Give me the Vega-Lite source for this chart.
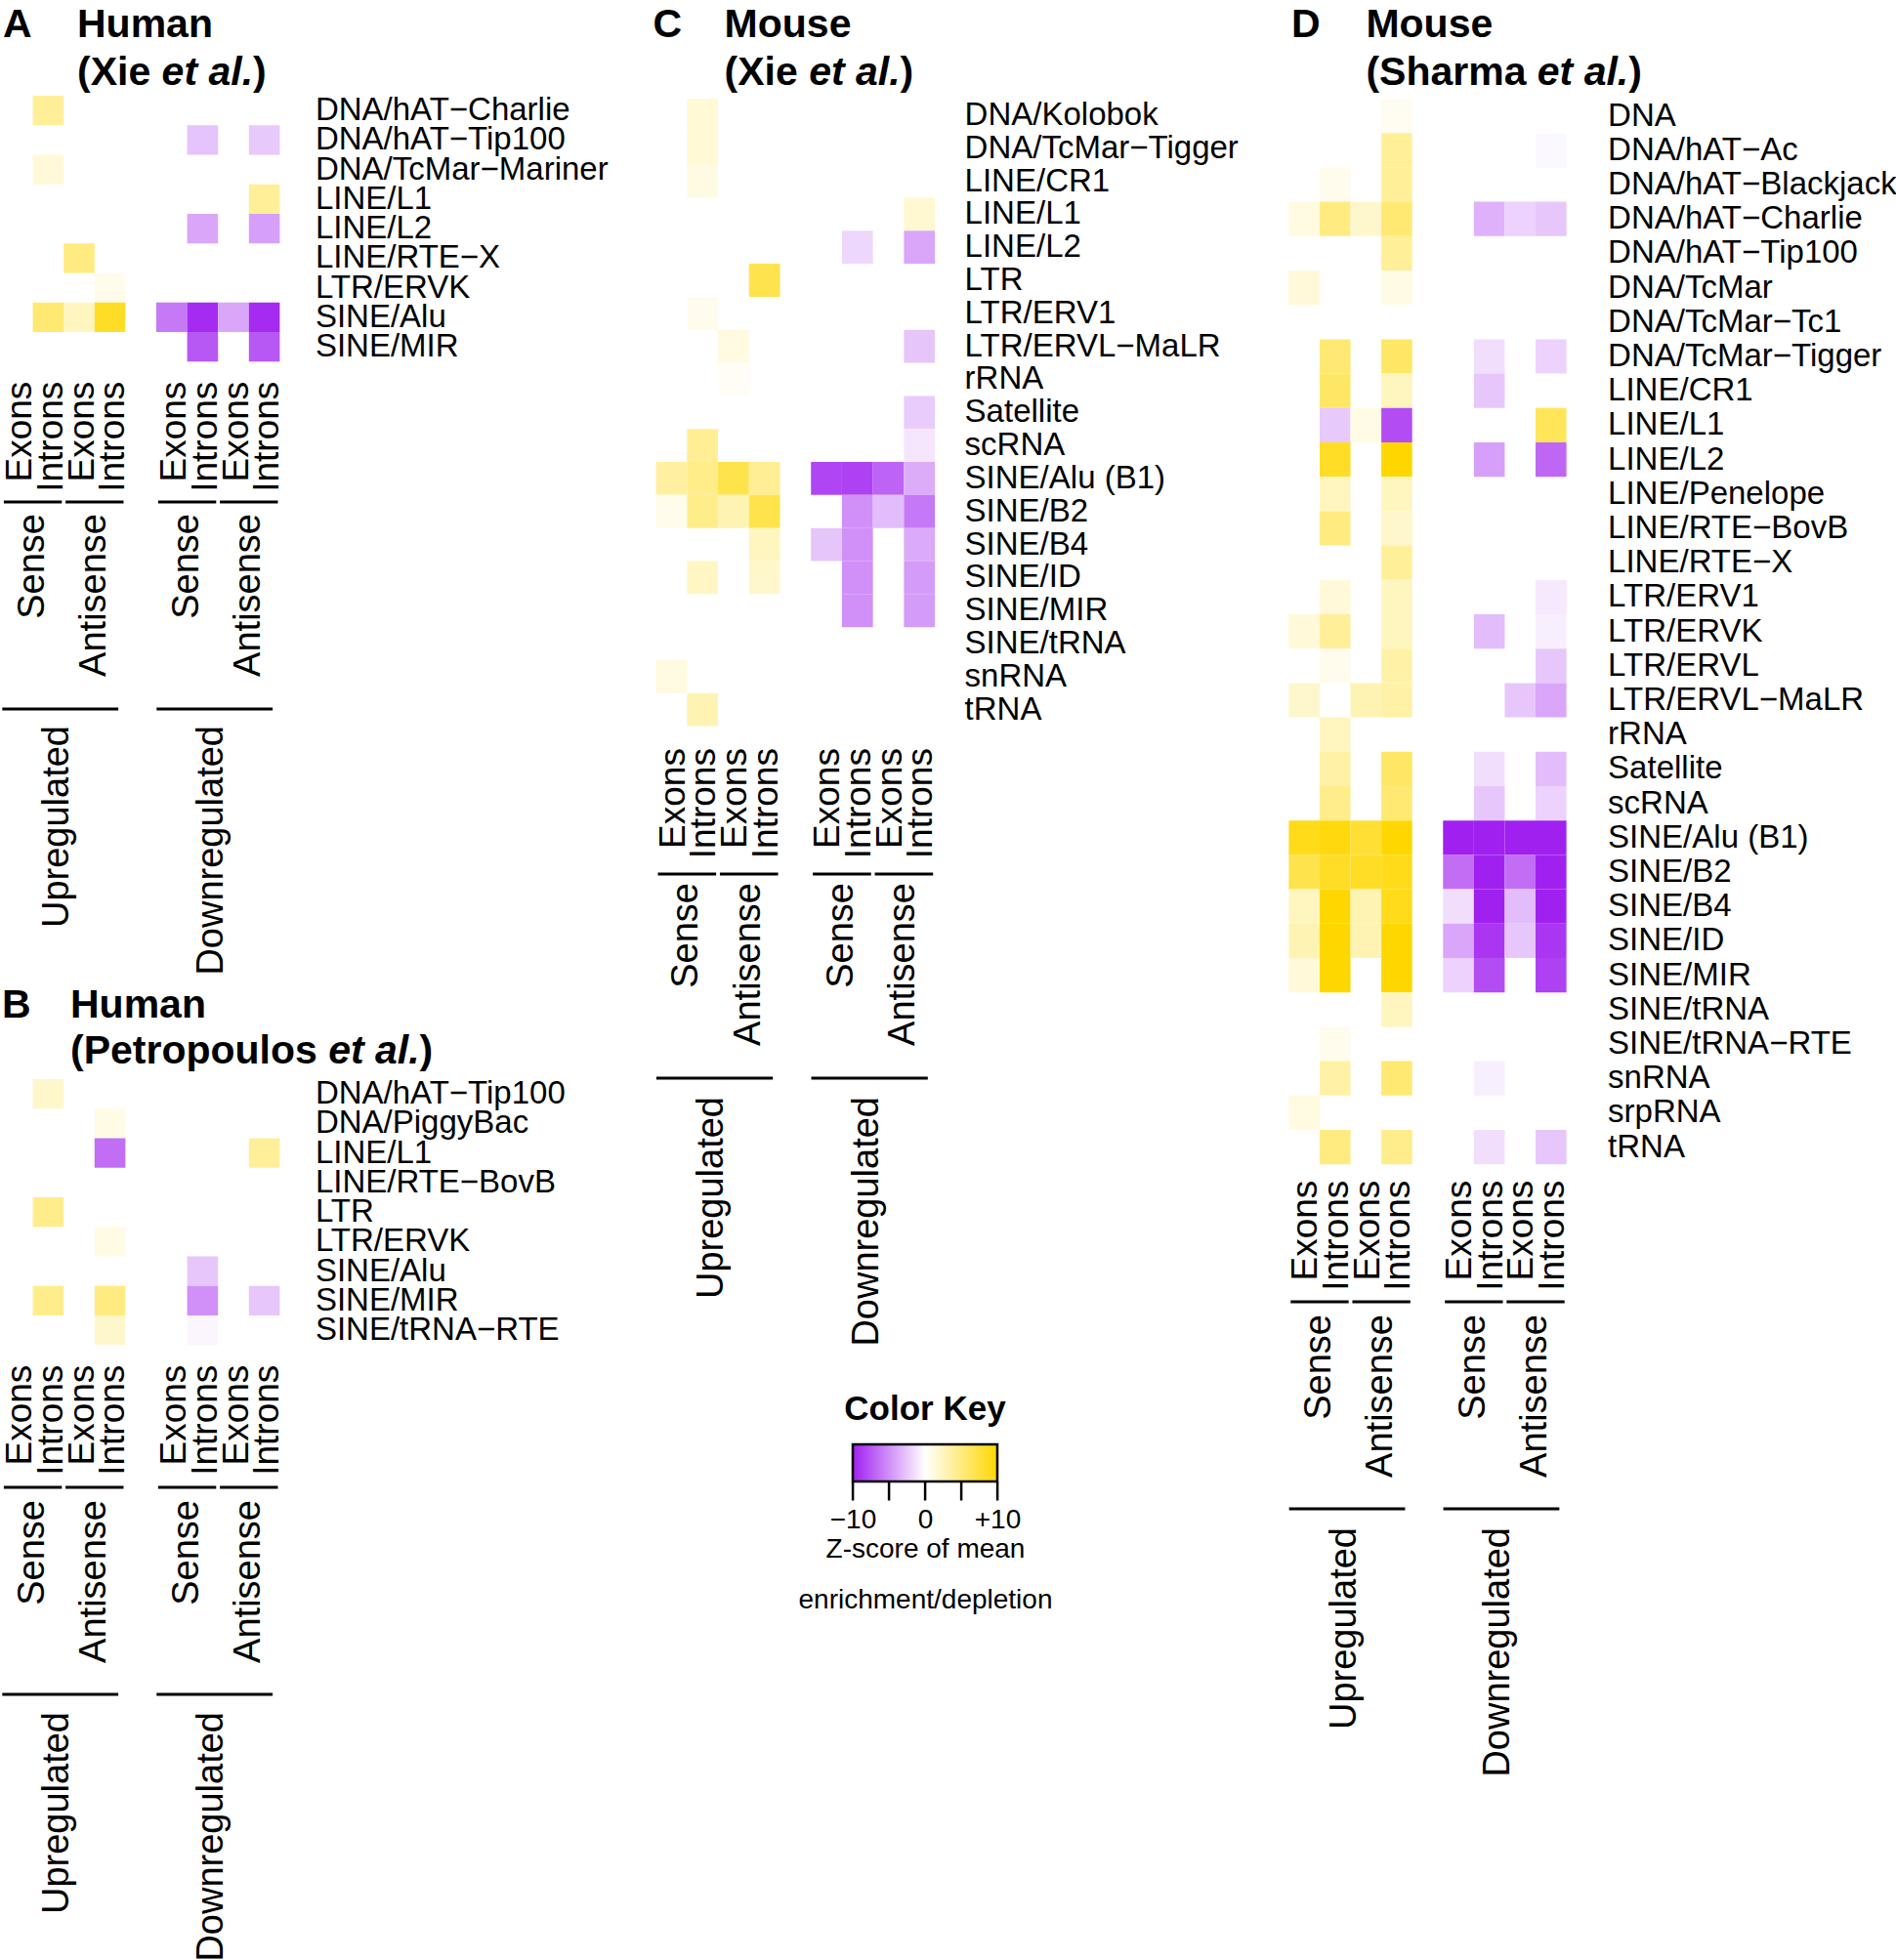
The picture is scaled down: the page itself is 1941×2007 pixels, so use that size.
{
"$schema":"https://vega.github.io/schema/vega-lite/v6.json",
"background":"white",
"padding":0,
"config":{"view":{"stroke":null},"font":"Liberation Sans","text":{"font":"Liberation Sans","color":"black"},"axis":{"labelFont":"Liberation Sans","titleFont":"Liberation Sans"}},
"datasets":{
"A":[
{"family":"DNA/hAT−Charlie","col":"US-Introns","z":4},
{"family":"DNA/hAT−Tip100","col":"DS-Introns","z":-2.7},
{"family":"DNA/hAT−Tip100","col":"DA-Introns","z":-2.4},
{"family":"DNA/TcMar−Mariner","col":"US-Introns","z":1.5},
{"family":"LINE/L1","col":"DA-Introns","z":4},
{"family":"LINE/L2","col":"DS-Introns","z":-4},
{"family":"LINE/L2","col":"DA-Introns","z":-4.3},
{"family":"LINE/RTE−X","col":"UA-Exons","z":5},
{"family":"LTR/ERVK","col":"UA-Introns","z":0.8},
{"family":"SINE/Alu","col":"US-Introns","z":5.5},
{"family":"SINE/Alu","col":"UA-Exons","z":2.5},
{"family":"SINE/Alu","col":"UA-Introns","z":8.5},
{"family":"SINE/Alu","col":"DS-Exons","z":-6},
{"family":"SINE/Alu","col":"DS-Introns","z":-9.5},
{"family":"SINE/Alu","col":"DA-Exons","z":-4},
{"family":"SINE/Alu","col":"DA-Introns","z":-9.5},
{"family":"SINE/MIR","col":"DS-Introns","z":-7.5},
{"family":"SINE/MIR","col":"DA-Introns","z":-7.5}],
"B":[
{"family":"DNA/hAT−Tip100","col":"US-Introns","z":2},
{"family":"DNA/PiggyBac","col":"UA-Introns","z":1},
{"family":"LINE/L1","col":"UA-Introns","z":-6.5},
{"family":"LINE/L1","col":"DA-Introns","z":4},
{"family":"LTR","col":"US-Introns","z":4.5},
{"family":"LTR/ERVK","col":"UA-Introns","z":1},
{"family":"SINE/Alu","col":"DS-Introns","z":-2.5},
{"family":"SINE/MIR","col":"US-Introns","z":4.5},
{"family":"SINE/MIR","col":"UA-Introns","z":5},
{"family":"SINE/MIR","col":"DS-Introns","z":-5},
{"family":"SINE/MIR","col":"DA-Introns","z":-2.5},
{"family":"SINE/tRNA−RTE","col":"UA-Introns","z":2},
{"family":"SINE/tRNA−RTE","col":"DS-Introns","z":-0.4}],
"C":[
{"family":"DNA/Kolobok","col":"US-Introns","z":1.6},
{"family":"DNA/TcMar−Tigger","col":"US-Introns","z":1.6},
{"family":"LINE/CR1","col":"US-Introns","z":1.1},
{"family":"LINE/L1","col":"DA-Introns","z":1.8},
{"family":"LINE/L2","col":"DS-Introns","z":-1.8},
{"family":"LINE/L2","col":"DA-Introns","z":-4},
{"family":"LTR","col":"UA-Introns","z":7},
{"family":"LTR/ERV1","col":"US-Introns","z":0.7},
{"family":"LTR/ERVL−MaLR","col":"UA-Exons","z":1.2},
{"family":"LTR/ERVL−MaLR","col":"DA-Introns","z":-2.6},
{"family":"rRNA","col":"UA-Exons","z":0.4},
{"family":"Satellite","col":"DA-Introns","z":-2.3},
{"family":"scRNA","col":"US-Introns","z":4.2},
{"family":"scRNA","col":"DA-Introns","z":-1.1},
{"family":"SINE/Alu (B1)","col":"US-Exons","z":3.7},
{"family":"SINE/Alu (B1)","col":"US-Introns","z":4.6},
{"family":"SINE/Alu (B1)","col":"UA-Exons","z":7},
{"family":"SINE/Alu (B1)","col":"UA-Introns","z":4.2},
{"family":"SINE/Alu (B1)","col":"DS-Exons","z":-8.3},
{"family":"SINE/Alu (B1)","col":"DS-Introns","z":-8.5},
{"family":"SINE/Alu (B1)","col":"DA-Exons","z":-7},
{"family":"SINE/Alu (B1)","col":"DA-Introns","z":-3.7},
{"family":"SINE/B2","col":"US-Exons","z":0.8},
{"family":"SINE/B2","col":"US-Introns","z":4.6},
{"family":"SINE/B2","col":"UA-Exons","z":3},
{"family":"SINE/B2","col":"UA-Introns","z":7},
{"family":"SINE/B2","col":"DS-Introns","z":-5},
{"family":"SINE/B2","col":"DA-Exons","z":-3},
{"family":"SINE/B2","col":"DA-Introns","z":-6},
{"family":"SINE/B4","col":"UA-Introns","z":2.5},
{"family":"SINE/B4","col":"DS-Exons","z":-2.6},
{"family":"SINE/B4","col":"DS-Introns","z":-5},
{"family":"SINE/B4","col":"DA-Introns","z":-3.8},
{"family":"SINE/ID","col":"US-Introns","z":2.3},
{"family":"SINE/ID","col":"UA-Introns","z":2},
{"family":"SINE/ID","col":"DS-Introns","z":-5},
{"family":"SINE/ID","col":"DA-Introns","z":-4.5},
{"family":"SINE/MIR","col":"DS-Introns","z":-5},
{"family":"SINE/MIR","col":"DA-Introns","z":-4.5},
{"family":"snRNA","col":"US-Exons","z":1.2},
{"family":"tRNA","col":"US-Introns","z":3}],
"D":[
{"family":"DNA","col":"UA-Introns","z":0.5},
{"family":"DNA/hAT−Ac","col":"UA-Introns","z":4},
{"family":"DNA/hAT−Ac","col":"DA-Introns","z":-0.3},
{"family":"DNA/hAT−Blackjack","col":"US-Introns","z":0.7},
{"family":"DNA/hAT−Blackjack","col":"UA-Introns","z":4},
{"family":"DNA/hAT−Charlie","col":"US-Exons","z":1.2},
{"family":"DNA/hAT−Charlie","col":"US-Introns","z":5},
{"family":"DNA/hAT−Charlie","col":"UA-Exons","z":2},
{"family":"DNA/hAT−Charlie","col":"UA-Introns","z":5.5},
{"family":"DNA/hAT−Charlie","col":"DS-Introns","z":-3.5},
{"family":"DNA/hAT−Charlie","col":"DA-Exons","z":-2},
{"family":"DNA/hAT−Charlie","col":"DA-Introns","z":-2.5},
{"family":"DNA/hAT−Tip100","col":"UA-Introns","z":4},
{"family":"DNA/TcMar","col":"US-Exons","z":1.5},
{"family":"DNA/TcMar","col":"UA-Introns","z":1},
{"family":"DNA/TcMar−Tigger","col":"US-Introns","z":5.5},
{"family":"DNA/TcMar−Tigger","col":"UA-Introns","z":6},
{"family":"DNA/TcMar−Tigger","col":"DS-Introns","z":-1.5},
{"family":"DNA/TcMar−Tigger","col":"DA-Introns","z":-2},
{"family":"LINE/CR1","col":"US-Introns","z":6},
{"family":"LINE/CR1","col":"UA-Introns","z":2.5},
{"family":"LINE/CR1","col":"DS-Introns","z":-2.5},
{"family":"LINE/L1","col":"US-Introns","z":-2.4},
{"family":"LINE/L1","col":"UA-Exons","z":1},
{"family":"LINE/L1","col":"UA-Introns","z":-8},
{"family":"LINE/L1","col":"DA-Introns","z":6.5},
{"family":"LINE/L2","col":"US-Introns","z":8.5},
{"family":"LINE/L2","col":"UA-Introns","z":10},
{"family":"LINE/L2","col":"DS-Introns","z":-4.3},
{"family":"LINE/L2","col":"DA-Introns","z":-6.8},
{"family":"LINE/Penelope","col":"US-Introns","z":2.5},
{"family":"LINE/Penelope","col":"UA-Introns","z":2.5},
{"family":"LINE/RTE−BovB","col":"US-Introns","z":5},
{"family":"LINE/RTE−BovB","col":"UA-Introns","z":2},
{"family":"LINE/RTE−X","col":"UA-Introns","z":4},
{"family":"LTR/ERV1","col":"US-Introns","z":1.5},
{"family":"LTR/ERV1","col":"UA-Introns","z":2.5},
{"family":"LTR/ERV1","col":"DA-Introns","z":-1},
{"family":"LTR/ERVK","col":"US-Exons","z":1.5},
{"family":"LTR/ERVK","col":"US-Introns","z":4},
{"family":"LTR/ERVK","col":"UA-Introns","z":2.5},
{"family":"LTR/ERVK","col":"DS-Introns","z":-3},
{"family":"LTR/ERVK","col":"DA-Introns","z":-0.7},
{"family":"LTR/ERVL","col":"US-Introns","z":0.7},
{"family":"LTR/ERVL","col":"UA-Introns","z":3.5},
{"family":"LTR/ERVL","col":"DA-Introns","z":-2.5},
{"family":"LTR/ERVL−MaLR","col":"US-Exons","z":2},
{"family":"LTR/ERVL−MaLR","col":"UA-Exons","z":3},
{"family":"LTR/ERVL−MaLR","col":"UA-Introns","z":3.5},
{"family":"LTR/ERVL−MaLR","col":"DA-Exons","z":-2.5},
{"family":"LTR/ERVL−MaLR","col":"DA-Introns","z":-4},
{"family":"rRNA","col":"US-Introns","z":2.5},
{"family":"Satellite","col":"US-Introns","z":3.5},
{"family":"Satellite","col":"UA-Introns","z":6},
{"family":"Satellite","col":"DS-Introns","z":-1.5},
{"family":"Satellite","col":"DA-Introns","z":-3},
{"family":"scRNA","col":"US-Introns","z":4.5},
{"family":"scRNA","col":"UA-Introns","z":5.5},
{"family":"scRNA","col":"DS-Introns","z":-2.5},
{"family":"scRNA","col":"DA-Introns","z":-2},
{"family":"SINE/Alu (B1)","col":"US-Exons","z":9},
{"family":"SINE/Alu (B1)","col":"US-Introns","z":9.5},
{"family":"SINE/Alu (B1)","col":"UA-Exons","z":8},
{"family":"SINE/Alu (B1)","col":"UA-Introns","z":10},
{"family":"SINE/Alu (B1)","col":"DS-Exons","z":-10},
{"family":"SINE/Alu (B1)","col":"DS-Introns","z":-10},
{"family":"SINE/Alu (B1)","col":"DA-Exons","z":-10},
{"family":"SINE/Alu (B1)","col":"DA-Introns","z":-10},
{"family":"SINE/B2","col":"US-Exons","z":7},
{"family":"SINE/B2","col":"US-Introns","z":8.5},
{"family":"SINE/B2","col":"UA-Exons","z":8.5},
{"family":"SINE/B2","col":"UA-Introns","z":9},
{"family":"SINE/B2","col":"DS-Exons","z":-6.5},
{"family":"SINE/B2","col":"DS-Introns","z":-10},
{"family":"SINE/B2","col":"DA-Exons","z":-6.5},
{"family":"SINE/B2","col":"DA-Introns","z":-10},
{"family":"SINE/B4","col":"US-Exons","z":2.5},
{"family":"SINE/B4","col":"US-Introns","z":10},
{"family":"SINE/B4","col":"UA-Exons","z":3},
{"family":"SINE/B4","col":"UA-Introns","z":9},
{"family":"SINE/B4","col":"DS-Exons","z":-1.5},
{"family":"SINE/B4","col":"DS-Introns","z":-10},
{"family":"SINE/B4","col":"DA-Exons","z":-3},
{"family":"SINE/B4","col":"DA-Introns","z":-10},
{"family":"SINE/ID","col":"US-Exons","z":3},
{"family":"SINE/ID","col":"US-Introns","z":10},
{"family":"SINE/ID","col":"UA-Exons","z":3},
{"family":"SINE/ID","col":"UA-Introns","z":10},
{"family":"SINE/ID","col":"DS-Exons","z":-4},
{"family":"SINE/ID","col":"DS-Introns","z":-9},
{"family":"SINE/ID","col":"DA-Exons","z":-2.5},
{"family":"SINE/ID","col":"DA-Introns","z":-9},
{"family":"SINE/MIR","col":"US-Exons","z":1.5},
{"family":"SINE/MIR","col":"US-Introns","z":10},
{"family":"SINE/MIR","col":"UA-Introns","z":10},
{"family":"SINE/MIR","col":"DS-Exons","z":-2},
{"family":"SINE/MIR","col":"DS-Introns","z":-8},
{"family":"SINE/MIR","col":"DA-Introns","z":-8.5},
{"family":"SINE/tRNA","col":"UA-Introns","z":2.5},
{"family":"SINE/tRNA−RTE","col":"US-Introns","z":0.7},
{"family":"snRNA","col":"US-Introns","z":3.5},
{"family":"snRNA","col":"UA-Introns","z":5.5},
{"family":"snRNA","col":"DS-Introns","z":-0.7},
{"family":"srpRNA","col":"US-Exons","z":1.2},
{"family":"tRNA","col":"US-Introns","z":5},
{"family":"tRNA","col":"UA-Introns","z":4.5},
{"family":"tRNA","col":"DS-Introns","z":-1.5},
{"family":"tRNA","col":"DA-Introns","z":-2.5}],
"strands":[
{"strand":"Sense","first":"US-Exons","last":"US-Introns"},
{"strand":"Antisense","first":"UA-Exons","last":"UA-Introns"},
{"strand":"Sense","first":"DS-Exons","last":"DS-Introns"},
{"strand":"Antisense","first":"DA-Exons","last":"DA-Introns"}],
"regs":[
{"reg":"Upregulated","first":"US-Exons","last":"UA-Introns","mid":"UA-Exons"},
{"reg":"Downregulated","first":"DS-Exons","last":"DA-Introns","mid":"DA-Exons"}],
"titles":[
{"panel":"A","letter":"A","line1":"Human","pre":"(Xie","etal":"et al.","post":")"},
{"panel":"B","letter":"B","line1":"Human","pre":"(Petropoulos","etal":"et al.","post":")"},
{"panel":"C","letter":"C","line1":"Mouse","pre":"(Xie","etal":"et al.","post":")"},
{"panel":"D","letter":"D","line1":"Mouse","pre":"(Sharma","etal":"et al.","post":")"}],
"key":[{"lo":-10,"hi":10,"title":"Color Key"}]
},
"spacing":669.6,
"bounds":"flush",
"hconcat":[
{"spacing":0,"bounds":"flush","vconcat":[
 {"width":284.4,"height":97.6,"data":{"name":"titles"},"transform":[{"filter":"datum.panel == 'A'"}],
  "layer":[
   {"mark":{"type":"text","align":"left","baseline":"alphabetic","fontSize":41,"fontWeight":"bold"},"encoding":{"x":{"datum":1,"type":"quantitative","scale":{"domain":[0,284.4],"nice":false,"zero":false},"axis":null},"y":{"datum":38,"type":"quantitative","scale":{"domain":[0,97.6],"nice":false,"reverse":true},"axis":null},"text":{"field":"letter"}}},
   {"mark":{"type":"text","align":"left","baseline":"alphabetic","fontSize":41,"fontWeight":"bold"},"encoding":{"x":{"datum":77,"type":"quantitative"},"y":{"datum":38,"type":"quantitative"},"text":{"field":"line1"}}},
   {"mark":{"type":"text","align":"left","baseline":"alphabetic","fontSize":41,"fontWeight":"bold"},"encoding":{"x":{"datum":77,"type":"quantitative"},"y":{"datum":87,"type":"quantitative"},"text":{"field":"pre"}}},
   {"mark":{"type":"text","align":"left","baseline":"alphabetic","fontSize":41,"fontWeight":"bold","fontStyle":"italic"},"encoding":{"x":{"datum":163.6,"type":"quantitative"},"y":{"datum":87,"type":"quantitative"},"text":{"field":"etal"}}},
   {"mark":{"type":"text","align":"left","baseline":"alphabetic","fontSize":41,"fontWeight":"bold"},"encoding":{"x":{"datum":257,"type":"quantitative"},"y":{"datum":87,"type":"quantitative"},"text":{"field":"post"}}}
  ]},
 {"width":284.4,"height":272.2,"data":{"name":"A"},"mark":"rect",
  "encoding":{
   "x":{"field":"col","type":"nominal","scale":{"domain":["US-Exons","US-Introns","UA-Exons","UA-Introns","gap","DS-Exons","DS-Introns","DA-Exons","DA-Introns"],"paddingInner":0,"paddingOuter":0},"axis":{"orient":"bottom","title":null,"ticks":false,"domain":false,"labelAngle":-90,"labelAlign":"right","labelBaseline":"top","labelOffset":-14.5,"labelPadding":20,"labelFontSize":37,"labelColor":"black","labelOverlap":false,"labelLimit":1000,"labelExpr":"datum.value == 'gap' ? '' : split(datum.value, '-')[1]"}},
   "y":{"field":"family","type":"nominal","scale":{"domain":["DNA/hAT−Charlie","DNA/hAT−Tip100","DNA/TcMar−Mariner","LINE/L1","LINE/L2","LINE/RTE−X","LTR/ERVK","SINE/Alu","SINE/MIR"],"paddingInner":0,"paddingOuter":0},"axis":{"orient":"right","title":null,"ticks":false,"domain":false,"labelPadding":36,"labelFontSize":33,"labelColor":"black","labelLimit":1000,"labelOverlap":false}},
   "color":{"field":"z","type":"quantitative","scale":{"domain":[-10,0,10],"range":["#A020F0","#FFFFFF","#FFD700"],"interpolate":"rgb"},"legend":null}}},
 {"width":284.4,"height":630.2,
  "layer":[
   {"data":{"name":"strands"},"mark":{"type":"rule","strokeWidth":3,"color":"black"},"encoding":{"x":{"field":"first","type":"nominal","bandPosition":0.06,"scale":{"domain":["US-Exons","US-Introns","UA-Exons","UA-Introns","gap","DS-Exons","DS-Introns","DA-Exons","DA-Introns"],"paddingInner":0,"paddingOuter":0},"axis":null},"x2":{"field":"last","bandPosition":0.94},"y":{"datum":143,"type":"quantitative","scale":{"domain":[0,630.2],"nice":false,"reverse":true},"axis":null}}},
   {"data":{"name":"strands"},"mark":{"type":"text","angle":-90,"align":"right","baseline":"middle","fontSize":38,"color":"black"},"encoding":{"x":{"field":"last","type":"nominal","bandPosition":0},"y":{"datum":155,"type":"quantitative"},"text":{"field":"strand"}}},
   {"data":{"name":"regs"},"mark":{"type":"rule","strokeWidth":3,"color":"black"},"encoding":{"x":{"field":"first","type":"nominal","bandPosition":0.01},"x2":{"field":"last","bandPosition":0.77},"y":{"datum":355,"type":"quantitative"}}},
   {"data":{"name":"regs"},"mark":{"type":"text","angle":-90,"align":"right","baseline":"middle","fontSize":38,"color":"black","dy":-6},"encoding":{"x":{"field":"mid","type":"nominal","bandPosition":0},"y":{"datum":372,"type":"quantitative"},"text":{"field":"reg"}}}
  ]},
 {"width":284.4,"height":102.6,"data":{"name":"titles"},"transform":[{"filter":"datum.panel == 'B'"}],
  "layer":[
   {"mark":{"type":"text","align":"left","baseline":"alphabetic","fontSize":41,"fontWeight":"bold"},"encoding":{"x":{"datum":0,"type":"quantitative","scale":{"domain":[0,284.4],"nice":false,"zero":false},"axis":null},"y":{"datum":40,"type":"quantitative","scale":{"domain":[0,102.6],"nice":false,"reverse":true},"axis":null},"text":{"field":"letter"}}},
   {"mark":{"type":"text","align":"left","baseline":"alphabetic","fontSize":41,"fontWeight":"bold"},"encoding":{"x":{"datum":70,"type":"quantitative"},"y":{"datum":40,"type":"quantitative"},"text":{"field":"line1"}}},
   {"mark":{"type":"text","align":"left","baseline":"alphabetic","fontSize":41,"fontWeight":"bold"},"encoding":{"x":{"datum":70,"type":"quantitative"},"y":{"datum":87,"type":"quantitative"},"text":{"field":"pre"}}},
   {"mark":{"type":"text","align":"left","baseline":"alphabetic","fontSize":41,"fontWeight":"bold","fontStyle":"italic"},"encoding":{"x":{"datum":334.2,"type":"quantitative"},"y":{"datum":87,"type":"quantitative"},"text":{"field":"etal"}}},
   {"mark":{"type":"text","align":"left","baseline":"alphabetic","fontSize":41,"fontWeight":"bold"},"encoding":{"x":{"datum":427.6,"type":"quantitative"},"y":{"datum":87,"type":"quantitative"},"text":{"field":"post"}}}
  ]},
 {"width":284.4,"height":272.2,"data":{"name":"B"},"mark":"rect",
  "encoding":{
   "x":{"field":"col","type":"nominal","scale":{"domain":["US-Exons","US-Introns","UA-Exons","UA-Introns","gap","DS-Exons","DS-Introns","DA-Exons","DA-Introns"],"paddingInner":0,"paddingOuter":0},"axis":{"orient":"bottom","title":null,"ticks":false,"domain":false,"labelAngle":-90,"labelAlign":"right","labelBaseline":"top","labelOffset":-14.5,"labelPadding":20,"labelFontSize":37,"labelColor":"black","labelOverlap":false,"labelLimit":1000,"labelExpr":"datum.value == 'gap' ? '' : split(datum.value, '-')[1]"}},
   "y":{"field":"family","type":"nominal","scale":{"domain":["DNA/hAT−Tip100","DNA/PiggyBac","LINE/L1","LINE/RTE−BovB","LTR","LTR/ERVK","SINE/Alu","SINE/MIR","SINE/tRNA−RTE"],"paddingInner":0,"paddingOuter":0},"axis":{"orient":"right","title":null,"ticks":false,"domain":false,"labelPadding":36,"labelFontSize":33,"labelColor":"black","labelLimit":1000,"labelOverlap":false}},
   "color":{"field":"z","type":"quantitative","scale":{"domain":[-10,0,10],"range":["#A020F0","#FFFFFF","#FFD700"],"interpolate":"rgb"},"legend":null}}},
 {"width":284.4,"height":632.2,
  "layer":[
   {"data":{"name":"strands"},"mark":{"type":"rule","strokeWidth":3,"color":"black"},"encoding":{"x":{"field":"first","type":"nominal","bandPosition":0.06,"scale":{"domain":["US-Exons","US-Introns","UA-Exons","UA-Introns","gap","DS-Exons","DS-Introns","DA-Exons","DA-Introns"],"paddingInner":0,"paddingOuter":0},"axis":null},"x2":{"field":"last","bandPosition":0.94},"y":{"datum":145,"type":"quantitative","scale":{"domain":[0,632.2],"nice":false,"reverse":true},"axis":null}}},
   {"data":{"name":"strands"},"mark":{"type":"text","angle":-90,"align":"right","baseline":"middle","fontSize":38,"color":"black"},"encoding":{"x":{"field":"last","type":"nominal","bandPosition":0},"y":{"datum":158,"type":"quantitative"},"text":{"field":"strand"}}},
   {"data":{"name":"regs"},"mark":{"type":"rule","strokeWidth":3,"color":"black"},"encoding":{"x":{"field":"first","type":"nominal","bandPosition":0.01},"x2":{"field":"last","bandPosition":0.77},"y":{"datum":357,"type":"quantitative"}}},
   {"data":{"name":"regs"},"mark":{"type":"text","angle":-90,"align":"right","baseline":"middle","fontSize":38,"color":"black","dy":-6},"encoding":{"x":{"field":"mid","type":"nominal","bandPosition":0},"y":{"datum":375,"type":"quantitative"},"text":{"field":"reg"}}}
  ]}
]},
{"spacing":647.8,"bounds":"flush","hconcat":[
 {"spacing":0,"bounds":"flush","vconcat":[
  {"width":285.5,"height":100.9,"data":{"name":"titles"},"transform":[{"filter":"datum.panel == 'C'"}],
   "layer":[
    {"mark":{"type":"text","align":"left","baseline":"alphabetic","fontSize":41,"fontWeight":"bold"},"encoding":{"x":{"datum":-3,"type":"quantitative","scale":{"domain":[0,285.5],"nice":false,"zero":false},"axis":null},"y":{"datum":38,"type":"quantitative","scale":{"domain":[0,100.9],"nice":false,"reverse":true},"axis":null},"text":{"field":"letter"}}},
    {"mark":{"type":"text","align":"left","baseline":"alphabetic","fontSize":41,"fontWeight":"bold"},"encoding":{"x":{"datum":70,"type":"quantitative"},"y":{"datum":38,"type":"quantitative"},"text":{"field":"line1"}}},
    {"mark":{"type":"text","align":"left","baseline":"alphabetic","fontSize":41,"fontWeight":"bold"},"encoding":{"x":{"datum":70,"type":"quantitative"},"y":{"datum":87,"type":"quantitative"},"text":{"field":"pre"}}},
    {"mark":{"type":"text","align":"left","baseline":"alphabetic","fontSize":41,"fontWeight":"bold","fontStyle":"italic"},"encoding":{"x":{"datum":156.6,"type":"quantitative"},"y":{"datum":87,"type":"quantitative"},"text":{"field":"etal"}}},
    {"mark":{"type":"text","align":"left","baseline":"alphabetic","fontSize":41,"fontWeight":"bold"},"encoding":{"x":{"datum":250,"type":"quantitative"},"y":{"datum":87,"type":"quantitative"},"text":{"field":"post"}}}
   ]},
  {"width":285.5,"height":642.6,"data":{"name":"C"},"mark":"rect",
   "encoding":{
    "x":{"field":"col","type":"nominal","scale":{"domain":["US-Exons","US-Introns","UA-Exons","UA-Introns","gap","DS-Exons","DS-Introns","DA-Exons","DA-Introns"],"paddingInner":0,"paddingOuter":0},"axis":{"orient":"bottom","title":null,"ticks":false,"domain":false,"labelAngle":-90,"labelAlign":"right","labelBaseline":"top","labelOffset":-15.8,"labelPadding":22,"labelFontSize":37,"labelColor":"black","labelOverlap":false,"labelLimit":1000,"labelExpr":"datum.value == 'gap' ? '' : split(datum.value, '-')[1]"}},
    "y":{"field":"family","type":"nominal","scale":{"domain":["DNA/Kolobok","DNA/TcMar−Tigger","LINE/CR1","LINE/L1","LINE/L2","LTR","LTR/ERV1","LTR/ERVL−MaLR","rRNA","Satellite","scRNA","SINE/Alu (B1)","SINE/B2","SINE/B4","SINE/ID","SINE/MIR","SINE/tRNA","snRNA","tRNA"],"paddingInner":0,"paddingOuter":0},"axis":{"orient":"right","title":null,"ticks":false,"domain":false,"labelPadding":30,"labelFontSize":33,"labelColor":"black","labelLimit":1000,"labelOverlap":false}},
    "color":{"field":"z","type":"quantitative","scale":{"domain":[-10,0,10],"range":["#A020F0","#FFFFFF","#FFD700"],"interpolate":"rgb"},"legend":null}}},
  {"width":285.5,"height":656.5,
   "layer":[
    {"data":{"name":"strands"},"mark":{"type":"rule","strokeWidth":3,"color":"black"},"encoding":{"x":{"field":"first","type":"nominal","bandPosition":0.06,"scale":{"domain":["US-Exons","US-Introns","UA-Exons","UA-Introns","gap","DS-Exons","DS-Introns","DA-Exons","DA-Introns"],"paddingInner":0,"paddingOuter":0},"axis":null},"x2":{"field":"last","bandPosition":0.94},"y":{"datum":151,"type":"quantitative","scale":{"domain":[0,656.5],"nice":false,"reverse":true},"axis":null}}},
    {"data":{"name":"strands"},"mark":{"type":"text","angle":-90,"align":"right","baseline":"middle","fontSize":38,"color":"black"},"encoding":{"x":{"field":"last","type":"nominal","bandPosition":0},"y":{"datum":160,"type":"quantitative"},"text":{"field":"strand"}}},
    {"data":{"name":"regs"},"mark":{"type":"rule","strokeWidth":3,"color":"black"},"encoding":{"x":{"field":"first","type":"nominal","bandPosition":0.01},"x2":{"field":"last","bandPosition":0.77},"y":{"datum":360,"type":"quantitative"}}},
    {"data":{"name":"regs"},"mark":{"type":"text","angle":-90,"align":"right","baseline":"middle","fontSize":38,"color":"black","dy":-6},"encoding":{"x":{"field":"mid","type":"nominal","bandPosition":0},"y":{"datum":379,"type":"quantitative"},"text":{"field":"reg"}}}
   ]},
  {"width":285.5,"height":116,"data":{"name":"key"},
   "layer":[
    {"mark":{"type":"rect","fill":{"gradient":"linear","x1":0,"x2":1,"y1":0,"y2":0,"stops":[{"offset":0,"color":"#A020F0"},{"offset":0.5,"color":"#FFFFFF"},{"offset":1,"color":"#FFD700"}]},"stroke":"black","strokeWidth":2.5},
     "encoding":{"x":{"field":"lo","type":"quantitative","scale":{"domain":[-10,10],"range":[201.4,349.4],"nice":false,"zero":false},"axis":{"orient":"bottom","values":[-10,-5,0,5,10],"tickSize":19,"tickWidth":2.5,"tickColor":"black","domain":false,"grid":false,"labelExpr":"datum.value == -10 ? '−10' : datum.value == 0 ? '0' : datum.value == 10 ? '+10' : ''","labelFontSize":28,"labelColor":"black","labelPadding":6,"labelFlush":false,"labelOverlap":false,"title":["Z-score of mean","enrichment/depletion"],"titleFontSize":28,"titleFontWeight":"normal","titleColor":"black","titlePadding":2,"titleLineHeight":52}},
      "x2":{"field":"hi"},
      "y":{"datum":78,"type":"quantitative","scale":{"domain":[0,116],"nice":false,"reverse":true},"axis":null},
      "y2":{"datum":116}}},
    {"mark":{"type":"text","align":"center","baseline":"alphabetic","fontSize":35,"fontWeight":"bold"},"encoding":{"x":{"datum":0,"type":"quantitative"},"y":{"datum":53,"type":"quantitative"},"text":{"field":"title"}}}
   ]}
 ]},
 {"spacing":0,"bounds":"flush","vconcat":[
  {"width":284.2,"height":101,"data":{"name":"titles"},"transform":[{"filter":"datum.panel == 'D'"}],
   "layer":[
    {"mark":{"type":"text","align":"left","baseline":"alphabetic","fontSize":41,"fontWeight":"bold"},"encoding":{"x":{"datum":2.5,"type":"quantitative","scale":{"domain":[0,284.2],"nice":false,"zero":false},"axis":null},"y":{"datum":38,"type":"quantitative","scale":{"domain":[0,101],"nice":false,"reverse":true},"axis":null},"text":{"field":"letter"}}},
    {"mark":{"type":"text","align":"left","baseline":"alphabetic","fontSize":41,"fontWeight":"bold"},"encoding":{"x":{"datum":79,"type":"quantitative"},"y":{"datum":38,"type":"quantitative"},"text":{"field":"line1"}}},
    {"mark":{"type":"text","align":"left","baseline":"alphabetic","fontSize":41,"fontWeight":"bold"},"encoding":{"x":{"datum":79,"type":"quantitative"},"y":{"datum":87,"type":"quantitative"},"text":{"field":"pre"}}},
    {"mark":{"type":"text","align":"left","baseline":"alphabetic","fontSize":41,"fontWeight":"bold","fontStyle":"italic"},"encoding":{"x":{"datum":254.4,"type":"quantitative"},"y":{"datum":87,"type":"quantitative"},"text":{"field":"etal"}}},
    {"mark":{"type":"text","align":"left","baseline":"alphabetic","fontSize":41,"fontWeight":"bold"},"encoding":{"x":{"datum":347.8,"type":"quantitative"},"y":{"datum":87,"type":"quantitative"},"text":{"field":"post"}}}
   ]},
  {"width":284.2,"height":1091.2,"data":{"name":"D"},"mark":"rect",
   "encoding":{
    "x":{"field":"col","type":"nominal","scale":{"domain":["US-Exons","US-Introns","UA-Exons","UA-Introns","gap","DS-Exons","DS-Introns","DA-Exons","DA-Introns"],"paddingInner":0,"paddingOuter":0},"axis":{"orient":"bottom","title":null,"ticks":false,"domain":false,"labelAngle":-90,"labelAlign":"right","labelBaseline":"top","labelOffset":-15.8,"labelPadding":16,"labelFontSize":37,"labelColor":"black","labelOverlap":false,"labelLimit":1000,"labelExpr":"datum.value == 'gap' ? '' : split(datum.value, '-')[1]"}},
    "y":{"field":"family","type":"nominal","scale":{"domain":["DNA","DNA/hAT−Ac","DNA/hAT−Blackjack","DNA/hAT−Charlie","DNA/hAT−Tip100","DNA/TcMar","DNA/TcMar−Tc1","DNA/TcMar−Tigger","LINE/CR1","LINE/L1","LINE/L2","LINE/Penelope","LINE/RTE−BovB","LINE/RTE−X","LTR/ERV1","LTR/ERVK","LTR/ERVL","LTR/ERVL−MaLR","rRNA","Satellite","scRNA","SINE/Alu (B1)","SINE/B2","SINE/B4","SINE/ID","SINE/MIR","SINE/tRNA","SINE/tRNA−RTE","snRNA","srpRNA","tRNA"],"paddingInner":0,"paddingOuter":0},"axis":{"orient":"right","title":null,"ticks":false,"domain":false,"labelPadding":42,"labelFontSize":33,"labelColor":"black","labelLimit":1000,"labelOverlap":false}},
    "color":{"field":"z","type":"quantitative","scale":{"domain":[-10,0,10],"range":["#A020F0","#FFFFFF","#FFD700"],"interpolate":"rgb"},"legend":null}}},
  {"width":284.2,"height":638,
   "layer":[
    {"data":{"name":"strands"},"mark":{"type":"rule","strokeWidth":3,"color":"black"},"encoding":{"x":{"field":"first","type":"nominal","bandPosition":0.06,"scale":{"domain":["US-Exons","US-Introns","UA-Exons","UA-Introns","gap","DS-Exons","DS-Introns","DA-Exons","DA-Introns"],"paddingInner":0,"paddingOuter":0},"axis":null},"x2":{"field":"last","bandPosition":0.94},"y":{"datum":140,"type":"quantitative","scale":{"domain":[0,638],"nice":false,"reverse":true},"axis":null}}},
    {"data":{"name":"strands"},"mark":{"type":"text","angle":-90,"align":"right","baseline":"middle","fontSize":38,"color":"black"},"encoding":{"x":{"field":"last","type":"nominal","bandPosition":0},"y":{"datum":153,"type":"quantitative"},"text":{"field":"strand"}}},
    {"data":{"name":"regs"},"mark":{"type":"rule","strokeWidth":3,"color":"black"},"encoding":{"x":{"field":"first","type":"nominal","bandPosition":0.01},"x2":{"field":"last","bandPosition":0.77},"y":{"datum":352,"type":"quantitative"}}},
    {"data":{"name":"regs"},"mark":{"type":"text","angle":-90,"align":"right","baseline":"middle","fontSize":38,"color":"black","dy":-6},"encoding":{"x":{"field":"mid","type":"nominal","bandPosition":0},"y":{"datum":371,"type":"quantitative"},"text":{"field":"reg"}}}
   ]}
 ]}
]}
]
}
